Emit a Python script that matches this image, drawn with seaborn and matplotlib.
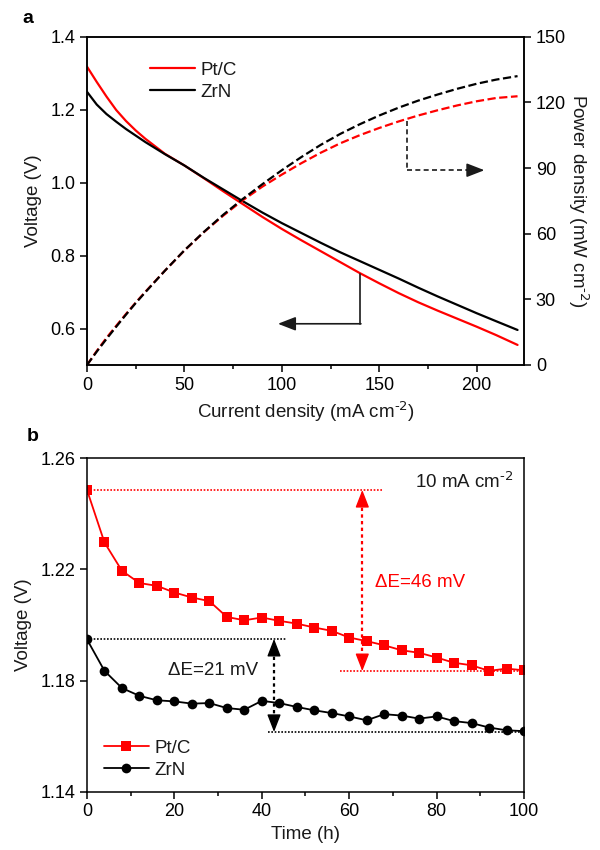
import matplotlib
matplotlib.use("Agg")
import matplotlib.pyplot as plt
import seaborn as sns
import pandas as pd
from matplotlib.ticker import MultipleLocator

# ---------------- data ----------------
current = [0, 5, 10, 15, 20, 25, 30, 40, 50, 60, 70, 80, 90, 100, 110, 120,
           130, 140, 150, 160, 170, 180, 190, 200, 210, 221]
v_ptc = [1.318, 1.276, 1.236, 1.199, 1.169, 1.143, 1.120, 1.079, 1.047, 1.012,
         0.976, 0.941, 0.906, 0.873, 0.842, 0.812, 0.782, 0.752, 0.724, 0.697,
         0.672, 0.649, 0.627, 0.605, 0.582, 0.555]
v_zrn = [1.249, 1.214, 1.188, 1.167, 1.147, 1.129, 1.111, 1.078, 1.047, 1.013,
         0.981, 0.949, 0.918, 0.889, 0.862, 0.835, 0.809, 0.785, 0.761, 0.737,
         0.712, 0.688, 0.665, 0.642, 0.620, 0.596]
p_ptc = [0.0, 6.4, 12.4, 17.9, 23.3, 28.5, 33.5, 43.1, 52.3, 60.7, 68.3, 75.3,
         81.5, 87.0, 92.2, 97.0, 101.3, 105.0, 108.3, 111.3, 114.0, 116.4,
         118.6, 120.5, 122.0, 122.8]
p_zrn = [0.0, 6.1, 11.9, 17.5, 23.0, 28.3, 33.3, 43.1, 52.4, 60.8, 68.7, 75.9,
         82.6, 89.0, 95.0, 100.6, 105.6, 110.0, 114.0, 117.6, 120.8, 123.6,
         126.2, 128.5, 130.4, 132.0]

time_h = [0, 4, 8, 12, 16, 20, 24, 28, 32, 36, 40, 44, 48, 52, 56, 60, 64, 68,
          72, 76, 80, 84, 88, 92, 96, 100]
s_ptc = [1.2486, 1.2297, 1.2195, 1.2151, 1.2141, 1.2117, 1.2099, 1.2086,
         1.2029, 1.2017, 1.2027, 1.2015, 1.2005, 1.1991, 1.1979, 1.1955,
         1.1942, 1.1927, 1.1909, 1.1900, 1.1883, 1.1864, 1.1855, 1.1835,
         1.1843, 1.1837]
s_zrn = [1.1948, 1.1835, 1.1773, 1.1745, 1.1729, 1.1725, 1.1717, 1.1719,
         1.1701, 1.1695, 1.1727, 1.1719, 1.1705, 1.1693, 1.1683, 1.1671,
         1.1657, 1.1679, 1.1674, 1.1663, 1.1671, 1.1654, 1.1647, 1.1631,
         1.1621, 1.1618]

labels = ["Pt/C", "ZrN"]
RED = "#ff0000"
BLACK = "#000000"
UNIT = r"cm$^{\text{-2}}$"

# ---------------- style ----------------
sns.set_theme(style="ticks")
plt.rcParams['font.family'] = ['Liberation Sans', 'DejaVu Sans']
plt.rcParams['mathtext.default'] = 'regular'
plt.rcParams.update({
    'axes.linewidth': 1.1,
    'xtick.major.width': 1.1, 'ytick.major.width': 1.1,
    'xtick.minor.width': 1.1,
    'xtick.major.size': 5, 'ytick.major.size': 5, 'xtick.minor.size': 3,
    'xtick.labelsize': 13, 'ytick.labelsize': 13,
    'axes.labelsize': 13.5,
    'xtick.color': 'black', 'ytick.color': 'black',
    'axes.edgecolor': 'black', 'text.color': '#1a1a1a',
    'axes.labelcolor': '#1a1a1a',
})

fig = plt.figure(figsize=(6, 8.5), dpi=100)
ax1 = fig.add_axes([0.145, 0.5706, 0.7283, 0.3862])
ax2 = ax1.twinx()
axb = fig.add_axes([0.145, 0.0686, 0.7283, 0.3922])

# ---------------- panel a ----------------
df_v = pd.DataFrame({"I": current * 2, "V": v_ptc + v_zrn,
                     "s": [labels[0]] * len(current) + [labels[1]] * len(current)})
df_p = pd.DataFrame({"I": current * 2, "P": p_ptc + p_zrn,
                     "s": [labels[0]] * len(current) + [labels[1]] * len(current)})

sns.lineplot(data=df_v, x="I", y="V", hue="s", palette=[RED, BLACK],
             estimator=None, lw=1.6, ax=ax1, legend=True)
sns.lineplot(data=df_p, x="I", y="P", hue="s", palette=[RED, BLACK],
             estimator=None, lw=1.6, ls="--", ax=ax2, legend=False)

ax1.set_xlim(0, 224.3)
ax1.set_ylim(0.5, 1.4)
ax1.set_yticks([0.6, 0.8, 1.0, 1.2, 1.4])
ax1.xaxis.set_major_locator(MultipleLocator(50))
ax1.xaxis.set_minor_locator(MultipleLocator(25))
ax2.set_ylim(0, 150)
ax2.set_yticks([0, 30, 60, 90, 120, 150])
ax1.set_xlabel("Current density (mA " + UNIT + ")", labelpad=4)
ax1.set_ylabel("Voltage (V)", labelpad=6)
ax2.set_ylabel("Power density (mW " + UNIT + ")", rotation=270, labelpad=18)
for a in (ax1, ax2):
    for sp in a.spines.values():
        sp.set_visible(True)
        sp.set_linewidth(1.1)

leg = ax1.legend(loc="upper left", bbox_to_anchor=(0.105, 0.975), frameon=False,
                 handlelength=2.4, handletextpad=0.3, labelspacing=0.25,
                 fontsize=13.5)
for h in leg.get_lines():
    h.set_linewidth(1.6)

# arrow pointing to voltage axis
ax1.plot([140, 140], [0.749, 0.613], color="k", lw=1.2)
ax1.annotate("", xy=(98, 0.613), xytext=(140.6, 0.613),
             arrowprops=dict(arrowstyle="-|>,head_length=0.9,head_width=0.35",
                             color="k", lw=1.2, mutation_scale=12,
                             shrinkA=0, shrinkB=0))
# arrow pointing to power axis
ax2.plot([164, 164], [111.5, 89], color="k", lw=1.2, ls=(0, (3, 2)))
ax2.plot([164, 196], [89, 89], color="k", lw=1.2, ls=(0, (3, 2)))
ax2.annotate("", xy=(204, 89), xytext=(195, 89),
             arrowprops=dict(arrowstyle="-|>,head_length=0.9,head_width=0.35",
                             color="k", lw=1.2, mutation_scale=12,
                             shrinkA=0, shrinkB=0))

fig.text(0.038, 0.978, "a", fontsize=14, fontweight="bold", va="center",
         color="black")

# ---------------- panel b ----------------
df_s = pd.DataFrame({"t": time_h * 2, "V": s_ptc + s_zrn,
                     "s": [labels[0]] * len(time_h) + [labels[1]] * len(time_h)})
sns.lineplot(data=df_s, x="t", y="V", hue="s", style="s",
             markers={"Pt/C": "s", "ZrN": "o"}, dashes=False,
             palette=[RED, BLACK], estimator=None, lw=1.3, markersize=7,
             markeredgewidth=0, ax=axb, legend=True)
axb.set_xlim(0, 100)
axb.set_ylim(1.14, 1.26)
axb.set_yticks([1.14, 1.18, 1.22, 1.26])
axb.yaxis.set_major_formatter(matplotlib.ticker.FormatStrFormatter("%.2f"))
axb.xaxis.set_major_locator(MultipleLocator(20))
axb.xaxis.set_minor_locator(MultipleLocator(10))
axb.set_xlabel("Time (h)", labelpad=4)
axb.set_ylabel("Voltage (V)", labelpad=6)
for sp in axb.spines.values():
    sp.set_visible(True)
    sp.set_linewidth(1.1)

legb = axb.legend(loc="lower left", bbox_to_anchor=(0.0, -0.012), frameon=False,
                  handlelength=2.4, handletextpad=0.3, labelspacing=0.25,
                  fontsize=13.5)

# delta E annotations
top_r, bot_r, x_r = 1.2486, 1.1834, 63.0
axb.plot([0, 67.4], [top_r, top_r], color=RED, lw=1.2, ls=(0, (1, 1)))
axb.plot([57.9, 100], [bot_r, bot_r], color=RED, lw=1.2, ls=(0, (1, 1)))
axb.plot([x_r, x_r], [top_r - 0.004, bot_r + 0.004], color=RED, lw=1.6,
         ls=(0, (1.5, 1.5)))
for y0, y1 in ((top_r - 0.0045, top_r), (bot_r + 0.0045, bot_r)):
    axb.annotate("", xy=(x_r, y1), xytext=(x_r, y0),
                 arrowprops=dict(arrowstyle="-|>,head_length=0.9,head_width=0.35",
                                 color=RED, lw=1.0, mutation_scale=12,
                                 shrinkA=0, shrinkB=0))
axb.text(66, 1.2153, "ΔE=46 mV", color=RED, fontsize=13.5, va="center",
         ha="left")

top_k, bot_k, x_k = 1.1950, 1.1615, 42.8
axb.plot([0, 45.7], [top_k, top_k], color=BLACK, lw=1.2, ls=(0, (1, 1)))
axb.plot([41.5, 100], [bot_k, bot_k], color=BLACK, lw=1.2, ls=(0, (1, 1)))
axb.plot([x_k, x_k], [top_k - 0.004, bot_k + 0.004], color=BLACK, lw=1.6,
         ls=(0, (1.5, 1.5)))
for y0, y1 in ((top_k - 0.0045, top_k), (bot_k + 0.0045, bot_k)):
    axb.annotate("", xy=(x_k, y1), xytext=(x_k, y0),
                 arrowprops=dict(arrowstyle="-|>,head_length=0.9,head_width=0.35",
                                 color=BLACK, lw=1.0, mutation_scale=12,
                                 shrinkA=0, shrinkB=0))
axb.text(39.2, 1.1837, "ΔE=21 mV", color="#1a1a1a", fontsize=13.5,
         va="center", ha="right")

axb.text(0.975, 0.93, "10 mA " + UNIT, transform=axb.transAxes,
         fontsize=13.5, ha="right", va="center")

fig.text(0.045, 0.486, "b", fontsize=14, fontweight="bold", va="center",
         color="black")

fig.savefig("out.png", dpi=100)
